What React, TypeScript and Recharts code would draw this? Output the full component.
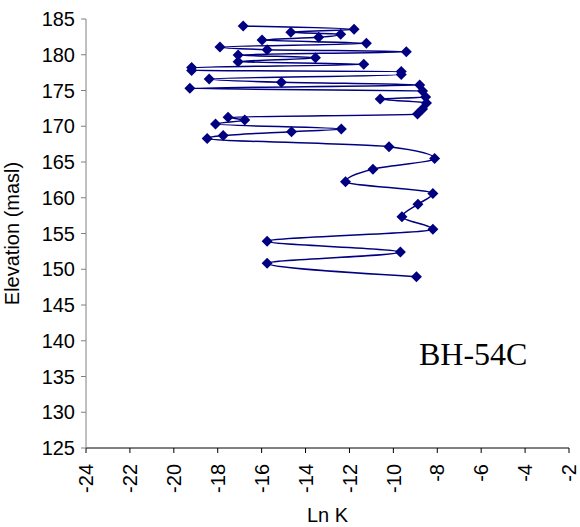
import { LineChart, Line, XAxis, YAxis, Label } from "recharts";

// values, ordered by elevation (top to bottom)
const elevation = [
  184.02, 183.56, 183.14, 182.86, 182.44, 182.06, 181.6, 181.08, 180.71, 180.43,
  179.97, 179.59, 179.03, 178.66, 178.2, 177.8, 177.66, 177.24, 176.6, 176.15,
  175.77, 175.3, 174.93, 174.1, 173.8, 173.25, 172.4, 171.7, 171.25, 170.87,
  170.3, 169.6, 169.24, 168.7, 168.3, 167.14, 165.5, 164.0, 162.24, 160.6,
  159.1, 157.35, 155.6, 153.9, 152.4, 150.83, 148.96,
];
const lnK = [
  -16.84, -11.79, -14.67, -12.4, -13.4, -15.98, -11.23, -17.9, -15.75, -9.41,
  -17.07, -13.55, -17.07, -11.35, -19.19, -19.19, -9.64, -9.64, -18.39, -15.1,
  -8.8, -19.27, -8.67, -8.53, -10.6, -8.49, -8.67, -8.9, -17.53, -16.77,
  -18.1, -12.37, -14.64, -17.75, -18.48, -10.2, -8.12, -10.93, -12.18, -8.2,
  -8.88, -9.61, -8.2, -15.75, -9.68, -15.75, -8.95,
];
const xTicks = [-24, -22, -20, -18, -16, -14, -12, -10, -8, -6, -4, -2];
const yTicks = [125, 130, 135, 140, 145, 150, 155, 160, 165, 170, 175, 180, 185];

const rows = elevation.map((e, i) => ({ x: lnK[i], y: e }));

const NAVY = "#000080";
const FONT = "'Liberation Sans', Arial, sans-serif";

const Diamond = (props: any) => {
  const { cx, cy, index } = props;
  if (cx == null || cy == null) return null;
  const r = 5.5;
  return (
    <path
      key={`d-${index}`}
      d={`M${cx},${cy - r}L${cx + r},${cy}L${cx},${cy + r}L${cx - r},${cy}Z`}
      fill={NAVY}
    />
  );
};

const XTick = (props: any) => {
  const { x, y, payload } = props;
  return (
    <text
      transform={`translate(${x},${y + 9}) rotate(-90)`}
      textAnchor="end"
      dy="0.36em"
      fontSize={20}
      fontFamily={FONT}
      fill="#000"
    >
      {payload.value}
    </text>
  );
};

export default function App() {
  return (
    <div style={{ position: "absolute", left: 0, top: 0, width: 580, height: 527, background: "#fff" }}>
      <LineChart
        width={580}
        height={527}
        data={rows}
        margin={{ top: 19, right: 11, bottom: 0, left: 0 }}
      >
        <XAxis
          type="number"
          dataKey="x"
          domain={[-24, -2]}
          ticks={xTicks}
          interval={0}
          height={79}
          tickSize={5}
          tick={<XTick />}
          stroke="#000"
        >
          <Label
            value="Ln K"
            position="insideBottom"
            offset={5}
            style={{ fontSize: 20, fontFamily: FONT, fill: "#000" }}
          />
        </XAxis>
        <YAxis
          type="number"
          dataKey="y"
          domain={[125, 185]}
          ticks={yTicks}
          interval={0}
          width={86}
          tickSize={5}
          tickMargin={6}
          stroke="#808080"
          tick={{ fontSize: 20, fontFamily: FONT, fill: "#000" }}
        >
          <Label
            value="Elevation (masl)"
            angle={-90}
            position="insideLeft"
            offset={12}
            style={{ textAnchor: "middle", fontSize: 20, fontFamily: FONT, fill: "#000" }}
          />
        </YAxis>
        <Line
          type="monotoneY"
          dataKey="y"
          stroke={NAVY}
          strokeWidth={1.5}
          dot={<Diamond />}
          activeDot={false}
          isAnimationActive={false}
        />
      </LineChart>
      <div
        style={{
          position: "absolute",
          left: 419,
          top: 336,
          fontFamily: "'Liberation Serif', 'Times New Roman', serif",
          fontSize: 32,
          lineHeight: "36px",
          color: "#000",
        }}
      >
        BH-54C
      </div>
    </div>
  );
}
